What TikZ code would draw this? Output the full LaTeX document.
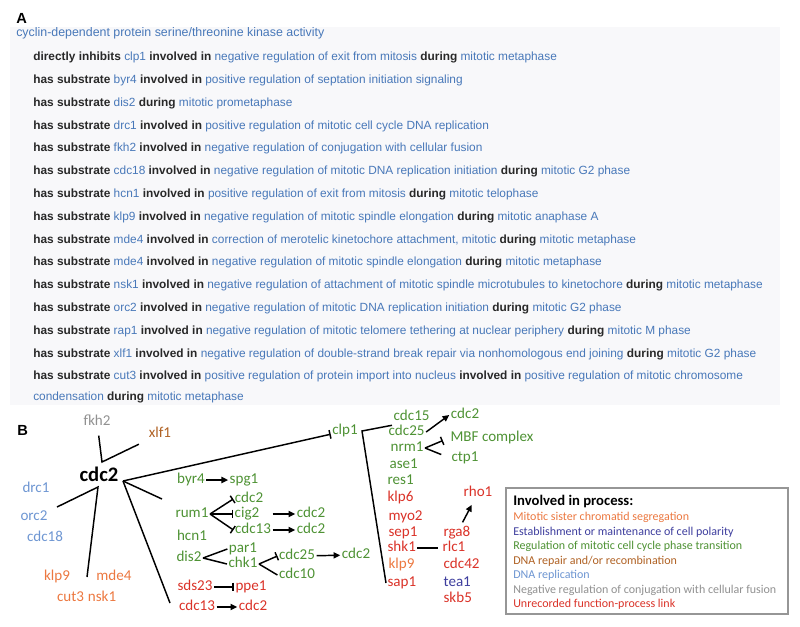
\documentclass[tikz,border=0pt]{standalone}
\usepackage{fontspec}
\setmainfont{Liberation Sans}
\newfontfamily\calibri{Carlito}
\usetikzlibrary{arrows.meta, positioning, calc}
\definecolor{linkBlue}{RGB}{72,120,185}
\definecolor{relInk}{RGB}{40,40,40}
\definecolor{panelGround}{RGB}{248,248,250}
\definecolor{keyEdge}{RGB}{150,150,150}
\definecolor{goSegr}{RGB}{236,120,64}
\definecolor{goPolar}{RGB}{62,62,158}
\definecolor{goPhase}{RGB}{78,146,52}
\definecolor{goRepair}{RGB}{176,98,36}
\definecolor{goRepl}{RGB}{110,150,210}
\definecolor{goConj}{RGB}{145,145,145}
\definecolor{goUnrec}{RGB}{218,50,40}
\newcommand{\rel}[1]{\textbf{\textcolor{relInk}{#1}}}
\newcommand{\term}[1]{\textcolor{linkBlue}{#1}}
\tikzset{
  % one line of the annotation list in panel A
  annot/.style={anchor=west, inner sep=0pt, font=\fontsize{8.9}{10}\selectfont,
    text height=6.6pt, text depth=1.9pt},
  panel/.style={anchor=west, inner sep=0pt, font=\fontsize{11}{12}\selectfont\bfseries},
  % gene names of the network in panel B; the colour is the process
  gene/.style={inner sep=1pt, font=\calibri\fontsize{11.3}{12}\selectfont,
    text height=7.8pt, text depth=2.2pt},
  hub/.style={gene, font=\calibri\fontsize{15.5}{16}\selectfont\bfseries, text=black},
  segr/.style={gene, text=goSegr},
  polar/.style={gene, text=goPolar},
  phase/.style={gene, text=goPhase},
  repair/.style={gene, text=goRepair},
  repl/.style={gene, text=goRepl},
  conj/.style={gene, text=goConj},
  unrec/.style={gene, text=goUnrec},
  % connectors
  link/.style={draw=black, line width=1.1pt},
  act/.style={link, -{Triangle[length=5pt,width=4.6pt]}},
  inh/.style={link, -{Bar[width=6.5pt]}},
  % the process key
  keybox/.style={draw=keyEdge, line width=0.8pt, fill=white, inner sep=0pt,
    minimum width=211.5pt, minimum height=94.5pt},
  keytext/.style={anchor=west, inner sep=0pt, font=\calibri\fontsize{9}{10}\selectfont},
}

\begin{document}
\begin{tikzpicture}[x=0.75pt, y=-0.75pt]
\useasboundingbox (0,0) rectangle (800,626);

% ============================== panel A ====================================
\node[panel] (labA) at (16,18) {A};
\fill[panelGround] (10,27) rectangle (780,405);

\node[annot, font=\fontsize{9.3}{10}\selectfont] (aHead) at (16,33)
      {\term{cyclin-dependent protein serine/threonine kinase activity}};
\node[annot] (aClp)  at (33,57.5)  {\rel{directly inhibits} \term{clp1} \rel{involved in} \term{negative regulation of exit from mitosis} \rel{during} \term{mitotic metaphase}};
\node[annot] (aByr)  at (33,80.3)  {\rel{has substrate} \term{byr4} \rel{involved in} \term{positive regulation of septation initiation signaling}};
\node[annot] (aDis)  at (33,103.1) {\rel{has substrate} \term{dis2} \rel{during} \term{mitotic prometaphase}};
\node[annot] (aDrc)  at (33,125.9) {\rel{has substrate} \term{drc1} \rel{involved in} \term{positive regulation of mitotic cell cycle DNA replication}};
\node[annot] (aFkh)  at (33,148.7) {\rel{has substrate} \term{fkh2} \rel{involved in} \term{negative regulation of conjugation with cellular fusion}};
\node[annot] (aCdc)  at (33,171.5) {\rel{has substrate} \term{cdc18} \rel{involved in} \term{negative regulation of mitotic DNA replication initiation} \rel{during} \term{mitotic G2 phase}};
\node[annot] (aHcn)  at (33,194.3) {\rel{has substrate} \term{hcn1} \rel{involved in} \term{positive regulation of exit from mitosis} \rel{during} \term{mitotic telophase}};
\node[annot] (aKlp)  at (33,217.1) {\rel{has substrate} \term{klp9} \rel{involved in} \term{negative regulation of mitotic spindle elongation} \rel{during} \term{mitotic anaphase A}};
\node[annot] (aMdeA) at (33,239.9) {\rel{has substrate} \term{mde4} \rel{involved in} \term{correction of merotelic kinetochore attachment, mitotic} \rel{during} \term{mitotic metaphase}};
\node[annot] (aMdeB) at (33,262.7) {\rel{has substrate} \term{mde4} \rel{involved in} \term{negative regulation of mitotic spindle elongation} \rel{during} \term{mitotic metaphase}};
\node[annot] (aNsk)  at (33,285.5) {\rel{has substrate} \term{nsk1} \rel{involved in} \term{negative regulation of attachment of mitotic spindle microtubules to kinetochore} \rel{during} \term{mitotic metaphase}};
\node[annot] (aOrc)  at (33,308.3) {\rel{has substrate} \term{orc2} \rel{involved in} \term{negative regulation of mitotic DNA replication initiation} \rel{during} \term{mitotic G2 phase}};
\node[annot] (aRap)  at (33,331.1) {\rel{has substrate} \term{rap1} \rel{involved in} \term{negative regulation of mitotic telomere tethering at nuclear periphery} \rel{during} \term{mitotic M phase}};
\node[annot] (aXlf)  at (33,353.9) {\rel{has substrate} \term{xlf1} \rel{involved in} \term{negative regulation of double-strand break repair via nonhomologous end joining} \rel{during} \term{mitotic G2 phase}};
\node[annot] (aCut)  at (33,376.7) {\rel{has substrate} \term{cut3} \rel{involved in} \term{positive regulation of protein import into nucleus} \rel{involved in} \term{positive regulation of mitotic chromosome}};
\node[annot] (aCutB) at (33,397.5) {\term{condensation} \rel{during} \term{mitotic metaphase}};

% ============================== panel B ====================================
\node[panel] (labB) at (17,430) {B};

% --- cdc2 and its direct substrates
\node[hub] (cdc2) at (99,478) {cdc2};
\node[conj]   (fkh2)  at (97,422)  {fkh2};
\node[repair] (xlf1)  at (160,434) {xlf1};
\node[repl]   (drc1)  at (36,489)  {drc1};
\node[repl]   (orc2)  at (34,517)  {orc2};
\node[repl]   (cdc18) at (45,538)  {cdc18};
\node[segr]   (klp9L) at (57,577)  {klp9};
\node[segr]   (mde4)  at (114,577) {mde4};
\node[segr]   (cut3)  at (70.5,598) {cut3};
\node[segr]   (nsk1)  at (102,598) {nsk1};

\coordinate (hubT) at (102,462);
\coordinate (hubB) at (98,487);
\coordinate (hubR) at (123,481);
\coordinate (blueEnd) at (57,507);
\coordinate (segEnd)  at (87,577);
\coordinate (grnEnd)  at (162,499);
\coordinate (redEnd)  at (170,603);

\draw[link, shorten <=4pt, shorten >=7pt] (fkh2) -- (hubT) -- (xlf1);
\draw[link] (blueEnd) -- (hubB) -- (segEnd);
\draw[link] (hubR) -- (grnEnd);
\draw[link] (hubR) -- (redEnd);

% --- cell-cycle regulators next to cdc2
\node[phase] (byr4)   at (191,480) {byr4};
\node[phase] (spg1)   at (244,480) {spg1};
\node[phase] (cdc2a)  at (249,499) {cdc2};
\node[phase] (rum1)   at (192,514) {rum1};
\node[phase] (cig2)   at (247,514) {cig2};
\node[phase] (cdc2b)  at (311,514) {cdc2};
\node[phase] (cdc13a) at (253,530) {cdc13};
\node[phase] (cdc2c)  at (311,530) {cdc2};
\node[phase] (hcn1)   at (192,537) {hcn1};
\node[phase] (par1)   at (243,549) {par1};
\node[phase] (dis2)   at (189,558) {dis2};
\node[phase] (chk1)   at (243,564) {chk1};
\node[phase] (cdc25a) at (297,556) {cdc25};
\node[phase] (cdc2d)  at (356,555) {cdc2};
\node[phase] (cdc10)  at (297,575) {cdc10};
\node[unrec] (sds23)  at (195,587) {sds23};
\node[unrec] (ppe1)   at (251,587) {ppe1};
\node[unrec] (cdc13b) at (197,607) {cdc13};
\node[unrec] (cdc2e)  at (253,607) {cdc2};

\draw[act] (byr4) -- (spg1);
\draw[inh] (rum1.east) -- (cdc2a.west);
\draw[inh] (rum1.east) -- (cig2.west);
\draw[inh] (rum1.east) -- (cdc13a.west);
\draw[act] (cig2 -| cdc13a.east) -- (cdc2b);
\draw[act] (cdc13a) -- (cdc2c);
\draw[link] (dis2.east) -- (par1.west);
\draw[link] (dis2.east) -- (chk1.west);
\draw[inh] (chk1.east) -- (cdc25a.west);
\draw[link] (chk1.east) -- (cdc10.west);
\draw[act] (cdc25a) -- (cdc2d);
\draw[inh] (sds23) -- (ppe1);
\draw[act] (cdc13b) -- (cdc2e);

% --- clp1, inhibited by cdc2, and its targets
\node[phase] (clp1) at (345,431) {clp1};
\draw[inh] (hubR) -- (clp1);

\node[phase, anchor=west] (cdc15)  at (392,417) {cdc15};
\node[phase, anchor=west] (cdc25b) at (387,432) {cdc25};
\node[phase, anchor=west] (nrm1)   at (389,448) {nrm1};
\node[phase, anchor=west] (ase1)   at (388,465) {ase1};
\node[phase, anchor=west] (res1)   at (386,481) {res1};
\node[unrec, anchor=west] (klp6)   at (386,498) {klp6};
\node[unrec, anchor=west] (myo2)   at (387,517) {myo2};
\node[unrec, anchor=west] (sep1)   at (387,533) {sep1};
\node[unrec, anchor=west] (shk1)   at (386,548) {shk1};
\node[segr,  anchor=west] (klp9R)  at (387,565) {klp9};
\node[unrec, anchor=west] (sap1)   at (386,583) {sap1};

\node[phase] (cdc2f) at (465,415) {cdc2};
\node[phase] (mbf)   at (492,438) {MBF complex};
\node[phase] (ctp1)  at (465,458) {ctp1};

\node[unrec] (rho1) at (478,493) {rho1};
\node[unrec, anchor=west] (rga8)  at (442,533) {rga8};
\node[unrec, anchor=west] (rlc1)  at (441,548) {rlc1};
\node[unrec, anchor=west] (cdc42) at (442,565) {cdc42};
\node[polar, anchor=west] (tea1)  at (442,583) {tea1};
\node[unrec, anchor=west] (skb5)  at (442,599) {skb5};

\coordinate (clpJ) at (362,431);
\draw[link] (cdc15.south west) -- (clpJ) -- (sap1.west);
\draw[act] (cdc25b.east) -- (cdc2f.west);
\draw[inh, shorten >=5pt] (nrm1.east) -- (mbf.west);
\draw[link, shorten >=7pt] (nrm1.east) -- (ctp1.west);
\draw[link, shorten >=2pt] (shk1) -- (rlc1);
\draw[act, shorten <=2pt, shorten >=3pt] (rga8) -- (rho1);

% ================================ key ======================================
\node[keybox] (key) at (647,551) {};
\node[keytext, font=\calibri\fontsize{11}{12}\selectfont\bfseries] (keyHead) at (513,501.7) {Involved in process:};
\node[keytext, text=goSegr]   (kSegr)   at (513,517.7) {Mitotic sister chromatid segregation};
\node[keytext, text=goPolar]  (kPolar)  at (513,532.7) {Establishment or maintenance of cell polarity};
\node[keytext, text=goPhase]  (kPhase)  at (513,546.7) {Regulation of mitotic cell cycle phase transition};
\node[keytext, text=goRepair] (kRepair) at (513,561.7) {DNA repair and/or recombination};
\node[keytext, text=goRepl]   (kRepl)   at (513,575.5) {DNA replication};
\node[keytext, text=goConj]   (kConj)   at (513,590)   {Negative regulation of conjugation with cellular fusion};
\node[keytext, text=goUnrec]  (kUnrec)  at (513,604)   {Unrecorded function-process link};

\end{tikzpicture}
\end{document}
